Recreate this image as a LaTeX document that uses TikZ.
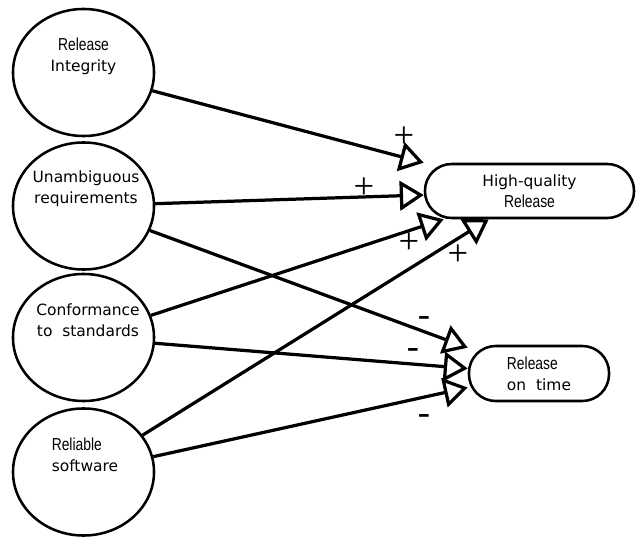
\documentclass[tikz,border=0pt]{standalone}
\usepackage{fontspec}
\setmainfont{DejaVu Sans}
\newfontfamily\narrowfont[FakeStretch=0.8,Scale=1.12]{Liberation Sans}
\newfontfamily\signfont{Liberation Serif}
\usepackage{tikz}
\usetikzlibrary{arrows.meta,shapes.geometric}

\tikzset{
  factor/.style={draw, ellipse, line width=1.8pt, minimum width=3.525cm, minimum height=3.175cm, inner sep=0pt},
  goal/.style={draw, rectangle, rounded corners=19pt, line width=1.8pt, inner sep=0pt, font=\fontsize{11}{15}\selectfont},
  flbl/.style={align=center, inner sep=1pt, font=\fontsize{11}{15}\selectfont},
  infl/.style={line width=2.3pt, -{Triangle[open, length=17pt, width=21pt]}},
  sgn/.style={inner sep=0pt, font=\signfont\fontsize{26}{26}\selectfont}
}

\begin{document}
\begin{tikzpicture}[x=0.025cm, y=-0.025cm]
\useasboundingbox (0,0) rectangle (636,537);

% the four factors on the left
\node[factor] (integ) at (83.5,72.5) {};
\node[factor] (unamb) at (83.5,206) {};
\node[factor] (conf) at (83.5,337.5) {};
\node[factor] (relia) at (83.5,472) {};
\node[flbl] (integ-t) at (83.5,56) {{\narrowfont Release}\\Integrity};
\node[flbl] (unamb-t) at (86,189) {Unambiguous\\requirements};
\node[flbl] (conf-t) at (88,320) {Conformance\\to~~standards};
\node[flbl, align=left] (relia-t) at (85,455) {{\narrowfont Reliable}\\software};

% the two goals on the right
\node[goal, minimum width=5.225cm, minimum height=1.35cm, align=center] (hq) at (529.5,191) {High-quality\\{\narrowfont Release}};
\node[goal, minimum width=3.5cm, minimum height=1.375cm, align=left] (rot) at (539,373.5) {{\narrowfont Release}\\on~~time};

% influences
\draw[infl] (integ) -- (hq.north west);
\draw[infl] (unamb) -- ([yshift=-0.1cm]hq.west);
\draw[infl] (unamb) -- ([yshift=-0.075cm]rot.north west);
\draw[infl] (conf) -- ([xshift=0.5cm]hq.south west);
\draw[infl] (conf) -- ([yshift=0.125cm]rot.west);
\draw[infl] (relia) -- ([xshift=1.625cm]hq.south west);
\draw[infl] (relia) -- ([yshift=-0.35cm]rot.west);

% signs
\node[sgn] (s1) at (404,137) {+};
\node[sgn] (s2) at (364,188) {+};
\node[sgn] (s3) at (409,243) {+};
\node[sgn] (s4) at (458,255) {+};
\node[sgn] (s5) at (424,322) {-};
\node[sgn] (s6) at (413,354) {-};
\node[sgn] (s7) at (424,420) {-};
\end{tikzpicture}
\end{document}
